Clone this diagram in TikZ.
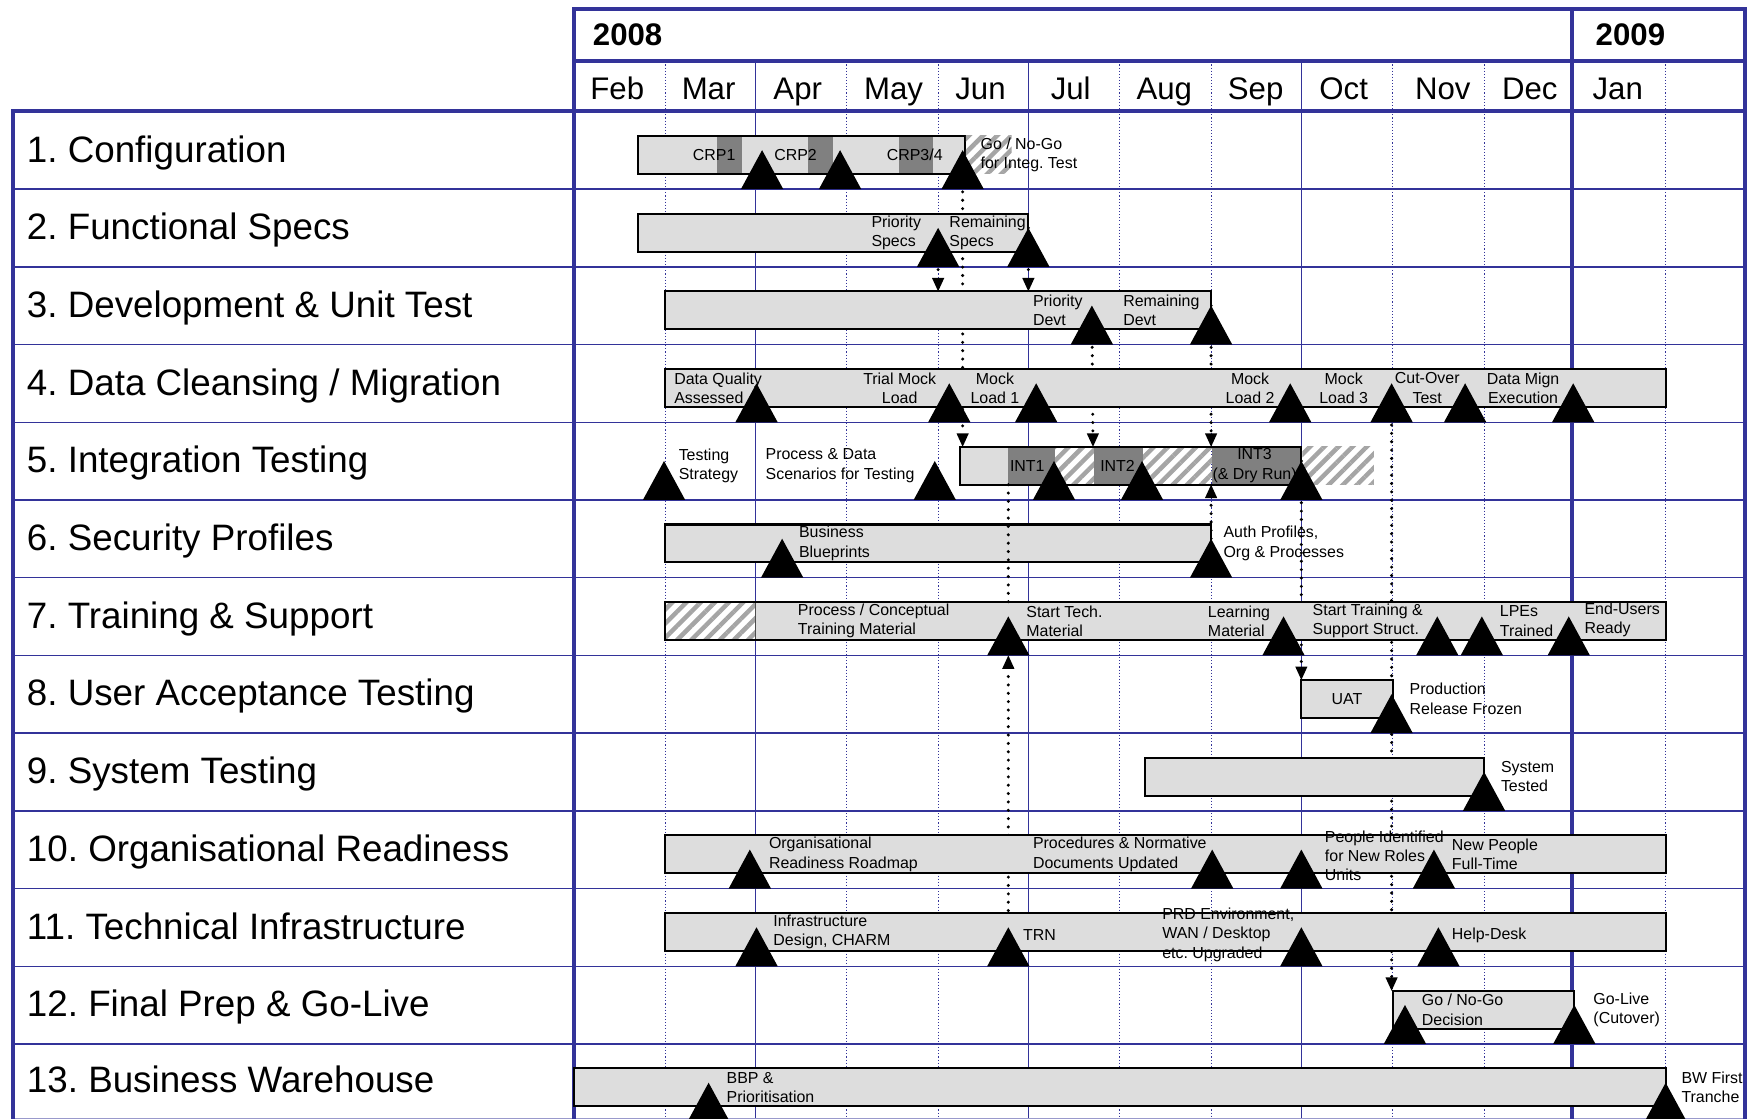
\documentclass[tikz,border=0pt]{standalone}
\usepackage{fontspec}
\setmainfont{Liberation Sans}
\usetikzlibrary{arrows.meta,patterns.meta}
\frenchspacing
\definecolor{navy}{RGB}{51,51,153}
\definecolor{barfill}{RGB}{221,221,221}
\definecolor{darkseg}{RGB}{128,128,128}
\definecolor{hatchgray}{RGB}{165,165,165}
\newcommand\lblfont{\fontsize{14.3}{17.3}\selectfont}
\newcommand\rowlblfont{\fontsize{33}{36}\selectfont}
\newcommand\monthfont{\fontsize{28}{32}\selectfont}
\newcommand\yearfnt{\fontsize{28}{32}\selectfont\bfseries}
\tikzset{
  thk/.style={draw=navy, line width=3.6pt, line join=miter},
  rowln/.style={draw=navy, line width=1.3pt},
  qln/.style={draw=navy, line width=1.3pt},
  mdot/.style={draw=navy, line width=0.9pt, dash pattern=on 1pt off 1.8pt},
  barframe/.style={draw=black, line width=1.8pt},
  bar/.style={draw=black, line width=1.8pt, fill=barfill},
  hatch/.style={pattern={Lines[angle=45,distance=9pt,line width=4pt]}, pattern color=hatchgray},
  link/.style={draw=black, line width=3pt, dash pattern=on 0pt off 7.5pt, line cap=round},
  linkarrow/.style={link, -{Triangle[width=11pt,length=12pt,line width=0pt]}},
  lbl/.style={font=\lblfont, inner sep=0pt, align=left, anchor=west},
  clbl/.style={font=\lblfont, inner sep=0pt, align=center},
  rowlbl/.style={font=\rowlblfont, inner sep=0pt, anchor=base west},
  mon/.style={font=\monthfont, inner sep=0pt, anchor=base},
  yr/.style={font=\yearfnt, inner sep=0pt, anchor=base west},
  ms/.pic={\fill[black] (-19,0) -- (0,-35) -- (19,0) -- cycle; \coordinate (-apex) at (0,-35);}
}
\begin{document}
\begin{tikzpicture}[x=1pt,y=-1pt]
\fill[white] (0,0) rectangle (1568,1004);
\useasboundingbox (0,0) rectangle (1568,1004);

% ---------- grid ----------
\foreach \x in {597,760,842,1005,1087,1250,1332,1495} \draw[mdot] (\x,55) -- (\x,1004);
\foreach \x in {678,923,1168} \draw[qln] (\x,55) -- (\x,1004);
\foreach \i in {1,...,12} \draw[rowln] (12,{100+69.75*\i}) -- (1566,{100+69.75*\i});
\draw[draw=navy!50, line width=1pt] (12,1003.5) -- (1566,1003.5);
\draw[thk] (515,1004) -- (515,8) -- (1566,8) -- (1566,1004);
\draw[thk] (515,55) -- (1566,55);
\draw[thk] (12,1004) -- (12,100) -- (1566,100);
\draw[thk] (1411,8) -- (1411,1004);

% ---------- header ----------
\node[yr] (y2008) at (532,40.5) {2008};
\node[yr] (y2009) at (1432,40.5) {2009};
\node[mon] (mFeb) at (554,89) {Feb};
\node[mon] (mMar) at (636,89) {Mar};
\node[mon] (mApr) at (716,89) {Apr};
\node[mon] (mMay) at (802,89) {May};
\node[mon] (mJun) at (880,89) {Jun};
\node[mon] (mJul) at (961,89) {Jul};
\node[mon] (mAug) at (1045,89) {Aug};
\node[mon] (mSep) at (1127,89) {Sep};
\node[mon] (mOct) at (1206,89) {Oct};
\node[mon] (mNov) at (1295,89) {Nov};
\node[mon] (mDec) at (1373,89) {Dec};
\node[mon] (mJan) at (1452,89) {Jan};

% ---------- row labels ----------
\node[rowlbl] (r1) at (24,145.4) {1. Configuration};
\node[rowlbl] (r2) at (24,215.15) {2. Functional Specs};
\node[rowlbl] (r3) at (24,284.9) {3. Development \& Unit Test};
\node[rowlbl] (r4) at (24,354.65) {4. Data Cleansing / Migration};
\node[rowlbl] (r5) at (24,424.4) {5. Integration Testing};
\node[rowlbl] (r6) at (24,494.15) {6. Security Profiles};
\node[rowlbl] (r7) at (24,563.9) {7. Training \& Support};
\node[rowlbl] (r8) at (24,633.65) {8. User Acceptance Testing};
\node[rowlbl] (r9) at (24,703.4) {9. System Testing};
\node[rowlbl] (r10) at (24,773.15) {10. Organisational Readiness};
\node[rowlbl] (r11) at (24,842.9) {11. Technical Infrastructure};
\node[rowlbl] (r12) at (24,912.65) {12. Final Prep \& Go-Live};
\node[rowlbl] (r13) at (24,980.6) {13. Business Warehouse};

% ---------- connector end points ----------
\coordinate (c1e) at (864,401);
\coordinate (c2e) at (842,261.5);
\coordinate (c3e) at (923,261.5);
\coordinate (c4e) at (981,401);
\coordinate (c5e) at (1087,401);
\coordinate (c6e) at (1168,610.25);
\coordinate (c7e) at (1249,889.25);
\coordinate (c8e) at (1087,435);
\coordinate (c9e) at (905,588.25);
\coordinate (c10s) at (905,435);
\coordinate (c10e) at (905,540.5);
\coordinate (c1s) at (864,134.75);
\coordinate (c2s) at (842,204.5);
\coordinate (c3s) at (923,204.5);
\coordinate (c4s) at (980,274.25);
\coordinate (c5s) at (1087,274.25);
\coordinate (c6s) at (1168,413.75);
\coordinate (c7s) at (1249,344);
\coordinate (c8s) at (1087,483.5);
\coordinate (c9s) at (905,832.25);

% ---------- connectors behind bars ----------
\draw[linkarrow] (c1s) -- (c1e);
\draw[linkarrow] (c2s) -- (c2e);
\draw[linkarrow] (c3s) -- (c3e);
\draw[linkarrow] (c4s) -- (c4e);
\draw[linkarrow] (c5s) -- (c5e);
\draw[linkarrow] (c6s) -- (c6e);
\draw[linkarrow] (c7s) -- (c7e);
\draw[linkarrow] (c8s) -- (c8e);
\draw[linkarrow] (c9s) -- (c9e);

% ---------- bars ----------
% row 1
\fill[barfill] (573,122) rectangle (866,156);
\fill[darkseg] (643.5,122) rectangle (666,156);
\fill[darkseg] (725,122) rectangle (748,156);
\fill[darkseg] (807,122) rectangle (837,156);
\draw[barframe] (573,122) rectangle (866,156);
\fill[hatch] (867,122) rectangle (908,156);
% row 2
\path[bar] (573,191.75) rectangle (923,225.75);
% row 3
\path[bar] (597,261.5) rectangle (1087,295.5);
% row 4
\path[bar] (597,331.25) rectangle (1495,365.25);
% row 5
\fill[barfill] (862,401) rectangle (905,435);
\fill[darkseg] (905,401) rectangle (947,435);
\fill[hatch] (947,401) rectangle (982,435);
\fill[darkseg] (982,401) rectangle (1026,435);
\fill[hatch] (1026,401) rectangle (1088,435);
\fill[darkseg] (1088,401) rectangle (1168,435);
\draw[barframe] (862,401) rectangle (1168,435);
\fill[hatch] (1169,401) rectangle (1233,435);
% row 6
\path[bar] (597,470.75) rectangle (1087,504.75);
% row 7
\fill[barfill] (597,540.5) rectangle (1495,574.5);
\fill[white] (597,540.5) rectangle (678,574.5);
\fill[hatch] (597,540.5) rectangle (678,574.5);
\draw[line width=1pt, black!70] (678,540.5) -- (678,574.5);
\draw[barframe] (597,540.5) rectangle (1495,574.5);
% row 8
\path[bar] (1168,610.25) rectangle (1250,644.25);
% row 9
\path[bar] (1028,680) rectangle (1332,714);
% row 10
\path[bar] (597,749.75) rectangle (1495,783.75);
% row 11
\path[bar] (597,819.5) rectangle (1495,853.5);
% row 12
\path[bar] (1250,889.25) rectangle (1413,923.25);
% row 13
\path[bar] (515,959) rectangle (1495,993);

% ---------- connector drawn over bars ----------
\draw[link] (c10s) -- (c10e);

% ---------- milestones ----------
\pic (m1a) at (684,169.75) {ms};
\pic (m1b) at (754,169.75) {ms};
\pic (m1c) at (864,169.75) {ms};
\pic (m2a) at (842,239.5) {ms};
\pic (m2b) at (923,239.5) {ms};
\pic (m3a) at (980,309.25) {ms};
\pic (m3b) at (1087,309.25) {ms};
\pic (m4a) at (679,379) {ms};
\pic (m4b) at (852,379) {ms};
\pic (m4c) at (930,379) {ms};
\pic (m4d) at (1158,379) {ms};
\pic (m4e) at (1249,379) {ms};
\pic (m4f) at (1315,379) {ms};
\pic (m4g) at (1412,379) {ms};
\pic (m5a) at (596,448.75) {ms};
\pic (m5b) at (839,448.75) {ms};
\pic (m5c) at (946,448.75) {ms};
\pic (m5d) at (1025,448.75) {ms};
\pic (m5e) at (1168,448.75) {ms};
\pic (m6a) at (702,518.5) {ms};
\pic (m6b) at (1087,518.5) {ms};
\pic (m7a) at (905,588.25) {ms};
\pic (m7b) at (1152,588.25) {ms};
\pic (m7c) at (1290,588.25) {ms};
\pic (m7d) at (1330,588.25) {ms};
\pic (m7e) at (1408,588.25) {ms};
\pic (m8a) at (1249,658) {ms};
\pic (m9a) at (1332,727.75) {ms};
\pic (m10a) at (673,797.5) {ms};
\pic (m10b) at (1088,797.5) {ms};
\pic (m10c) at (1168,797.5) {ms};
\pic (m10d) at (1287,797.5) {ms};
\pic (m11a) at (679,867.25) {ms};
\pic (m11b) at (905,867.25) {ms};
\pic (m11c) at (1168,867.25) {ms};
\pic (m11d) at (1291,867.25) {ms};
\pic (m12a) at (1261,937) {ms};
\pic (m12b) at (1413,937) {ms};
\pic (m13a) at (636,1006.75) {ms};
\pic (m13b) at (1495,1006.75) {ms};

% ---------- labels ----------
\node[clbl] (t1a) at (641,139) {CRP1};
\node[clbl] (t1b) at (714,139) {CRP2};
\node[clbl] (t1c) at (821,139) {CRP3/4};
\node[lbl] (t1d) at (880,139) {Go / No-Go\\for Integ. Test};
\node[lbl] (t2a) at (782,208.75) {Priority\\Specs};
\node[lbl] (t2b) at (852,208.75) {Remaining\\Specs};
\node[lbl] (t3a) at (927,278.5) {Priority\\Devt};
\node[lbl] (t3b) at (1008,278.5) {Remaining\\Devt};
\node[lbl] (t4a) at (605,348.25) {Data Quality\\Assessed};
\node[clbl] (t4b) at (807.5,348.25) {Trial Mock\\Load};
\node[clbl] (t4c) at (893,348.25) {Mock\\Load 1};
\node[clbl] (t4d) at (1122,348.25) {Mock\\Load 2};
\node[clbl] (t4e) at (1206,348.25) {Mock\\Load 3};
\node[clbl] (t4f) at (1281,348.25) {Cut-Over\\Test};
\node[clbl] (t4g) at (1367,348.25) {Data Mign\\Execution};
\node[lbl] (t5a) at (609,418) {Testing\\Strategy};
\node[lbl] (t5b) at (687,418) {Process \& Data\\Scenarios for Testing};
\node[clbl] (t5c) at (922,418) {INT1};
\node[clbl] (t5d) at (1003,418) {INT2};
\node[clbl] (t5e) at (1126,418) {INT3\\(\& Dry Run)};
\node[lbl] (t6a) at (717,487.75) {Business\\Blueprints};
\node[lbl] (t6b) at (1098,487.75) {Auth Profiles,\\Org \& Processes};
\node[lbl] (t7a) at (716,557.5) {Process / Conceptual\\Training Material};
\node[lbl] (t7b) at (921,557.5) {Start Tech.\\Material};
\node[lbl] (t7c) at (1084,557.5) {Learning\\Material};
\node[lbl] (t7d) at (1178,557.5) {Start Training \&\\Support Struct.};
\node[lbl] (t7e) at (1346,557.5) {LPEs\\Trained};
\node[lbl] (t7f) at (1422,556.5) {End-Users\\Ready};
\node[clbl] (t8a) at (1209,627.25) {UAT};
\node[lbl] (t8b) at (1265,627.25) {Production\\Release Frozen};
\node[lbl] (t9a) at (1347,697) {System\\Tested};
\node[lbl] (t10a) at (690,766.75) {Organisational\\Readiness Roadmap};
\node[lbl] (t10b) at (927,766.75) {Procedures \& Normative\\Documents Updated};
\node[lbl] (t10c) at (1189,768.25) {People Identified\\for New Roles\\Units};
\node[lbl] (t10d) at (1303,766.75) {New People\\Full-Time};
\node[lbl] (t11a) at (694,836.5) {Infrastructure\\Design, CHARM};
\node[lbl] (t11b) at (918,839.5) {TRN};
\node[lbl] (t11c) at (1043,839) {PRD Environment,\\WAN / Desktop\\etc. Upgraded};
\node[lbl] (t11d) at (1303,839.5) {Help-Desk};
\node[lbl] (t12a) at (1276,906.25) {Go / No-Go\\Decision};
\node[lbl] (t12b) at (1430,906.25) {Go-Live\\(Cutover)};
\node[lbl] (t13a) at (652,976) {BBP \&\\Prioritisation};
\node[lbl] (t13b) at (1509,976) {BW First\\Tranche};
\end{tikzpicture}
\end{document}
